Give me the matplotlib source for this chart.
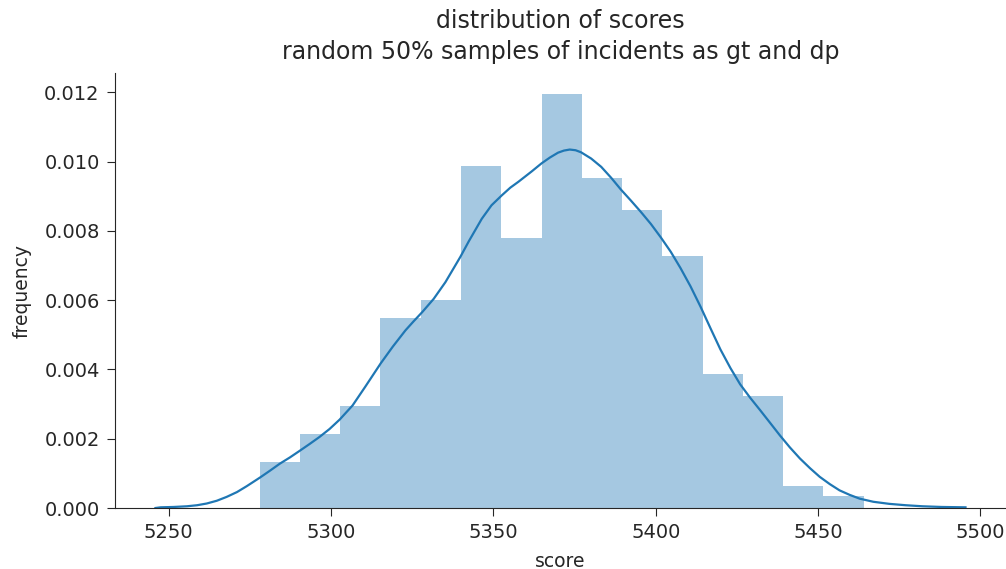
import numpy as np
import matplotlib
matplotlib.use("Agg")
import matplotlib.pyplot as plt
from matplotlib.ticker import FormatStrFormatter

# histogram (density)
bin_edges = [5278.0, 5290.4, 5302.8, 5315.2, 5327.6, 5340.0, 5352.4, 5364.8,
             5377.2, 5389.6, 5402.0, 5414.4, 5426.8, 5439.2, 5451.6, 5464.0]
bin_heights = [0.00133, 0.00213, 0.00294, 0.00549, 0.00602, 0.00987, 0.00780,
               0.01196, 0.00953, 0.00860, 0.00727, 0.00386, 0.00323, 0.00064,
               0.00035]

# kde curve
kde_x = [5245.9, 5247.5, 5251.5, 5255.6, 5258.7, 5261.7, 5264.8, 5267.8,
         5271.0, 5274.0, 5278.1, 5281.2, 5284.2, 5287.3, 5290.3, 5293.4,
         5296.4, 5299.5, 5302.6, 5306.6, 5310.5, 5315.3, 5319.0, 5322.9,
         5325.5, 5328.1, 5331.6, 5335.2, 5339.8, 5342.4, 5346.4, 5349.4,
         5352.6, 5355.2, 5357.7, 5361.8, 5364.8, 5367.4, 5369.9, 5371.7,
         5373.5, 5375.3, 5377.0, 5380.1, 5383.2, 5386.3, 5389.3, 5392.4,
         5395.4, 5398.5, 5401.5, 5404.6, 5407.6, 5410.7, 5413.8, 5416.9,
         5419.9, 5423.0, 5426.0, 5429.1, 5432.1, 5435.2, 5438.2, 5441.3,
         5444.4, 5447.5, 5450.5, 5453.6, 5456.6, 5459.7, 5462.8, 5467.0,
         5471.9, 5477.0, 5482.1, 5488.0, 5495.4]
kde_y = [0.00000, 0.00002, 0.00003, 0.00005, 0.00008, 0.00013, 0.00021, 0.00032,
         0.00046, 0.00063, 0.00088, 0.00108, 0.00128, 0.00146, 0.00165, 0.00185,
         0.00205, 0.00228, 0.00255, 0.00296, 0.00350, 0.00418, 0.00466, 0.00513,
         0.00540, 0.00566, 0.00604, 0.00652, 0.00725, 0.00770, 0.00835, 0.00874,
         0.00903, 0.00925, 0.00942, 0.00972, 0.00995, 0.01012, 0.01026, 0.01032,
         0.01035, 0.01033, 0.01027, 0.01009, 0.00985, 0.00953, 0.00919, 0.00887,
         0.00855, 0.00820, 0.00782, 0.00740, 0.00693, 0.00640, 0.00581, 0.00518,
         0.00458, 0.00404, 0.00357, 0.00318, 0.00283, 0.00246, 0.00210, 0.00175,
         0.00143, 0.00115, 0.00090, 0.00069, 0.00051, 0.00038, 0.00027, 0.00018,
         0.00012, 0.00008, 0.00005, 0.00003, 0.00002]

fig = plt.figure(figsize=(10.06, 5.69), dpi=100)
ax = fig.add_axes([0.1143, 0.1072, 0.8857, 0.7645])

widths = np.diff(bin_edges)
ax.bar(bin_edges[:-1], bin_heights, width=widths, align="edge",
       color="#1f77b4", alpha=0.4, linewidth=0)
ax.plot(kde_x, kde_y, color="#1f77b4", lw=1.6, solid_joinstyle="round")

ax.set_ylim(0, 0.01256)
ax.set_xticks([5250, 5300, 5350, 5400, 5450, 5500])
ax.set_yticks(np.arange(0, 0.0121, 0.002))
ax.yaxis.set_major_formatter(FormatStrFormatter("%.3f"))
ax.tick_params(labelsize=14, length=6, pad=5, colors="#262626")

for side in ["top", "right"]:
    ax.spines[side].set_visible(False)
for side in ["left", "bottom"]:
    ax.spines[side].set_color("#262626")

ax.set_xlabel("score", fontsize=13.5, labelpad=7, color="#262626")
ax.set_ylabel("frequency", fontsize=13.5, labelpad=9, color="#262626")
ax.set_title("distribution of scores\nrandom 50% samples of incidents as gt and dp",
             fontsize=17, pad=10, linespacing=1.35, color="#262626")

fig.savefig("out.png", dpi=100)
